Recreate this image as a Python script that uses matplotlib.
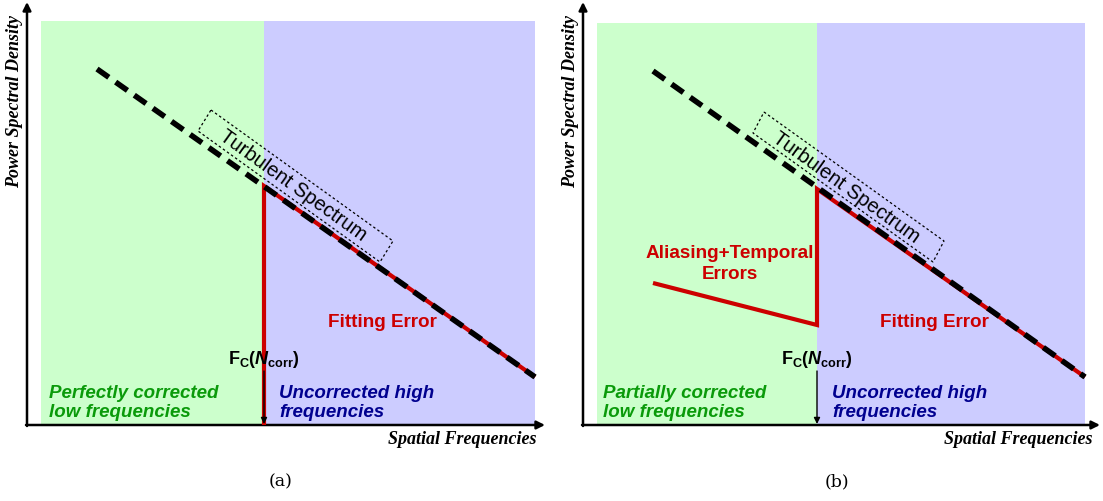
import matplotlib.pyplot as plt
from matplotlib.patches import Rectangle, Polygon

plt.rcParams['mathtext.fontset'] = 'custom'
plt.rcParams['mathtext.rm'] = 'Liberation Sans:bold'
plt.rcParams['mathtext.it'] = 'Liberation Sans:bold:italic'

# schematic data (figure pixel units, y grows downwards)
panel_names = ["(a)", "(b)"]
axis_origin_x = [27, 583]
axis_end_x = [545, 1100]
axis_y = 426
green_x = [(41, 264), (597, 817)]
blue_x = [(264, 535), (817, 1085)]
bg_top = [22, 24]

spectrum_x = [[97, 535], [653, 1085]]
spectrum_y = [[70, 378], [72, 378]]

error_x = [[535, 264, 264], [1085, 817, 817, 653]]
error_y = [[378, 187, 426], [378, 190, 326, 284]]

box_corners = [
    [(211, 111), (393, 242), (380, 263), (198, 132)],
    [(764, 113), (944, 242), (933, 263), (753, 134)],
]
turb_pos = [(293, 186), (846, 188)]
fit_pos = [(382, 323), (934, 323)]
fc_x = [264, 817]
low_text = ["Perfectly corrected\nlow frequencies", "Partially corrected\nlow frequencies"]
low_x = [49, 603]
high_x = [279, 832]

fig = plt.figure(figsize=(11.03, 5.02), dpi=100)
ax = fig.add_axes([0, 0, 1, 1])
ax.set_xlim(0, 1103)
ax.set_ylim(502, 0)
ax.axis('off')

sans = 'Liberation Sans'
green_txt = '#0a9a0a'
blue_txt = '#00008f'
red = '#cc0000'

for i in range(2):
    # backgrounds
    g0, g1 = green_x[i]
    b0, b1 = blue_x[i]
    ax.add_patch(Rectangle((g0, bg_top[i]), g1 - g0, axis_y - bg_top[i],
                           facecolor='#ccffcc', edgecolor='none', zorder=0))
    ax.add_patch(Rectangle((b0, bg_top[i]), b1 - b0, axis_y - bg_top[i],
                           facecolor='#ccccff', edgecolor='none', zorder=0))

    # axes arrows
    ox = axis_origin_x[i]
    ax.annotate('', xy=(ox, 3), xytext=(ox, axis_y + 1),
                arrowprops=dict(arrowstyle='-|>', lw=1.8, color='black',
                                mutation_scale=12, shrinkA=0, shrinkB=0))
    ax.annotate('', xy=(axis_end_x[i], axis_y), xytext=(ox - 1, axis_y),
                arrowprops=dict(arrowstyle='-|>', lw=1.8, color='black',
                                mutation_scale=12, shrinkA=0, shrinkB=0))

    # error curve
    ax.plot(error_x[i], error_y[i], color=red, lw=3.0, solid_capstyle='butt',
            solid_joinstyle='miter', zorder=3)
    # turbulent spectrum
    ax.plot(spectrum_x[i], spectrum_y[i], color='black', lw=4.0,
            linestyle=(0, (2.6, 1.5)), dash_capstyle='butt', zorder=4)

    # dotted box around label
    ax.add_patch(Polygon(box_corners[i], closed=True, fill=False,
                         edgecolor='black', lw=0.9, linestyle=(0, (2, 2)), zorder=5))
    ax.text(*turb_pos[i], "Turbulent Spectrum", rotation=-35.7, rotation_mode='anchor',
            ha='center', va='center', fontsize=14.5, family=sans, zorder=6)

    ax.text(*fit_pos[i], "Fitting Error", ha='center', va='center', color=red,
            fontsize=13.6, family=sans, fontweight='bold', zorder=6)

    # cutoff frequency
    ax.text(fc_x[i], 360, r'$\mathrm{F}_\mathrm{C}(\mathit{N}_\mathrm{corr})$',
            ha='center', va='center', fontsize=13, zorder=6)
    ax.annotate('', xy=(fc_x[i], axis_y - 1), xytext=(fc_x[i], 372),
                arrowprops=dict(arrowstyle='-|>', lw=1.0, color='black',
                                mutation_scale=9, shrinkA=0, shrinkB=0), zorder=6)

    ax.text(low_x[i], 403, low_text[i], ha='left', va='center', color=green_txt,
            fontsize=13.5, family=sans, fontweight='bold', style='italic',
            linespacing=1.08, zorder=6)
    ax.text(high_x[i], 403, "Uncorrected high\nfrequencies", ha='left', va='center',
            color=blue_txt, fontsize=13.5, family=sans, fontweight='bold',
            style='italic', linespacing=1.08, zorder=6)

    # axis labels
    ax.text(ox - 12, 101, "Power Spectral Density", rotation=90, ha='center',
            va='center', fontsize=13, family='Liberation Serif', fontweight='bold',
            style='italic')
    ax.text(axis_end_x[i] - 8, 440, "Spatial Frequencies", ha='right', va='center',
            fontsize=13, family='Liberation Serif', fontweight='bold', style='italic')
    ax.text((ox + axis_end_x[i]) / 2 - 5, 482, panel_names[i], ha='center',
            va='center', fontsize=12.5, family='DejaVu Serif')

ax.text(730, 264, "Aliasing+Temporal\nErrors", ha='center', va='center', color=red,
        fontsize=13.6, family=sans, fontweight='bold', linespacing=1.25, zorder=6)

fig.savefig('out.png', dpi=100)
